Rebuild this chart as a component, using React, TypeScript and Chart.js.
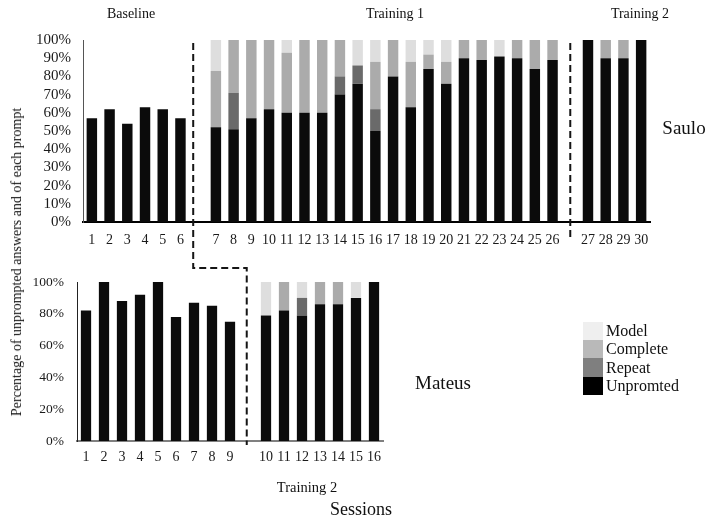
import React, { useEffect, useRef } from 'react';
import { Chart, registerables } from 'chart.js';
Chart.register(...registerables);

// ---------- Data ----------
const topSessions = ['1','2','3','4','5','6','','7','8','9','10','11','12','13','14','15','16','17','18','19','20','21','22','23','24','25','26','','27','28','29','30'];
const topUnprompted = [57,62,54,63,62,57,null,52,51,57,62,60,60,60,70,76,50,80,63,84,76,90,89,91,90,84,89,null,100,90,90,100];
const topRepeat =     [0,0,0,0,0,0,null,0,20,0,0,0,0,0,10,10,12,0,0,0,0,0,0,0,0,0,0,null,0,0,0,0];
const topComplete =   [0,0,0,0,0,0,null,31,29,43,38,33,40,40,20,0,26,20,25,8,12,10,11,0,10,16,11,null,0,10,10,0];
const topModel =      [0,0,0,0,0,0,null,17,0,0,0,7,0,0,0,14,12,0,12,8,12,0,0,9,0,0,0,null,0,0,0,0];

const bottomSessions = ['1','2','3','4','5','6','7','8','9','','10','11','12','13','14','15','16'];
const bottomUnprompted = [82,100,88,92,100,78,87,85,75,null,79,82,79,86,86,90,100];
const bottomRepeat =     [0,0,0,0,0,0,0,0,0,null,0,0,11,0,0,0,0];
const bottomComplete =   [0,0,0,0,0,0,0,0,0,null,0,18,0,14,14,0,0];
const bottomModel =      [0,0,0,0,0,0,0,0,0,null,21,0,10,0,0,10,0];

const legendItems = ['Model', 'Complete', 'Repeat', 'Unpromted'];

// ---------- Styles ----------
const FONT = '"Liberation Serif", "Times New Roman", Times, serif';
const C_UNPROMPTED = '#0b0b0b';
const C_REPEAT = '#6a6a6a';
const C_COMPLETE = '#ababab';
const C_MODEL = '#dedede';
const legendColors = ['#efefef', '#b9b9b9', '#7f7f7f', '#000000'];

function datasets(u: any[], r: any[], c: any[], m: any[], pct: number) {
  const base = { barPercentage: pct, categoryPercentage: 1, borderWidth: 0 };
  return [
    { label: 'Unpromted', data: u, backgroundColor: C_UNPROMPTED, ...base },
    { label: 'Repeat', data: r, backgroundColor: C_REPEAT, ...base },
    { label: 'Complete', data: c, backgroundColor: C_COMPLETE, ...base },
    { label: 'Model', data: m, backgroundColor: C_MODEL, ...base },
  ];
}

export default function App() {
  const topRef = useRef<HTMLCanvasElement>(null);
  const botRef = useRef<HTMLCanvasElement>(null);

  useEffect(() => {
    const topDivider = {
      id: 'topDivider',
      afterDraw(chart: any) {
        const ctx = chart.ctx;
        const x = chart.scales.x.getPixelForValue(27);
        ctx.save();
        ctx.setLineDash([7, 4]);
        ctx.lineWidth = 2;
        ctx.strokeStyle = '#151515';
        ctx.beginPath();
        ctx.moveTo(x, chart.chartArea.top + 3);
        ctx.lineTo(x, chart.chartArea.bottom + 15);
        ctx.stroke();
        ctx.restore();
      },
    };

    const topChart = new Chart(topRef.current as HTMLCanvasElement, {
      type: 'bar',
      data: { labels: topSessions, datasets: datasets(topUnprompted, topRepeat, topComplete, topModel, 0.59) as any },
      options: {
        responsive: false,
        animation: false,
        layout: { padding: { left: 0, top: 40, right: 61, bottom: 269 } },
        plugins: { legend: { display: false }, tooltip: { enabled: false } },
        scales: {
          x: {
            stacked: true,
            grid: { display: false, drawTicks: false },
            border: { display: true, color: '#000', width: 2 },
            ticks: { autoSkip: false, maxRotation: 0, minRotation: 0, padding: 10, color: '#1a1a1a', font: { family: FONT, size: 14 } },
            afterFit: (s: any) => { s.width = s.width; s.height = 30; },
          },
          y: {
            stacked: true,
            min: 0,
            max: 100,
            grid: { display: false, drawTicks: false },
            border: { display: true, color: '#555', width: 1 },
            ticks: { stepSize: 10, autoSkip: false, maxTicksLimit: 11, padding: 12, color: '#1a1a1a', font: { family: FONT, size: 15, lineHeight: 0.8 }, callback: (v: any) => v + '%' },
            afterFit: (s: any) => { s.width = 83; },
          },
        },
      },
      plugins: [topDivider],
    });

    const connector = {
      id: 'connector',
      afterDraw(chart: any) {
        const ctx = chart.ctx;
        const x1 = topChart.scales.x.getPixelForValue(5.72);
        const yTop = topChart.chartArea.top + 3;
        const yMid = 268;
        const x2 = chart.scales.x.getPixelForValue(8.93);
        const yEnd = chart.chartArea.bottom + 4;
        ctx.save();
        ctx.setLineDash([7, 4]);
        ctx.lineWidth = 2;
        ctx.strokeStyle = '#151515';
        ctx.beginPath();
        ctx.moveTo(x1, yTop);
        ctx.lineTo(x1, yMid);
        ctx.lineTo(x2, yMid);
        ctx.lineTo(x2, yEnd);
        ctx.stroke();
        ctx.restore();
      },
    };

    const botChart = new Chart(botRef.current as HTMLCanvasElement, {
      type: 'bar',
      data: { labels: bottomSessions, datasets: datasets(bottomUnprompted, bottomRepeat, bottomComplete, bottomModel, 0.57) as any },
      options: {
        responsive: false,
        animation: false,
        layout: { padding: { left: 0, top: 282, right: 328, bottom: 50 } },
        plugins: { legend: { display: false }, tooltip: { enabled: false } },
        scales: {
          x: {
            stacked: true,
            grid: { display: false, drawTicks: false },
            border: { display: true, color: '#808080', width: 2 },
            ticks: { autoSkip: false, maxRotation: 0, minRotation: 0, padding: 8, color: '#1a1a1a', font: { family: FONT, size: 14 } },
            afterFit: (s: any) => { s.height = 30; },
          },
          y: {
            stacked: true,
            min: 0,
            max: 100,
            grid: { display: false, drawTicks: false },
            border: { display: true, color: '#222', width: 1 },
            ticks: { stepSize: 20, autoSkip: false, padding: 13, color: '#1a1a1a', font: { family: FONT, size: 13.5 }, callback: (v: any) => v + '%' },
            afterFit: (s: any) => { s.width = 77; },
          },
        },
      },
      plugins: [connector],
    });

    return () => {
      botChart.destroy();
      topChart.destroy();
    };
  }, []);

  const txt = (s: string, cx: number, cy: number, size: number, extra: any = {}) => (
    <div
      style={{
        position: 'absolute', left: cx, top: cy, transform: 'translate(-50%, -50%)',
        fontFamily: FONT, fontSize: size, lineHeight: 1, whiteSpace: 'nowrap', color: '#111', ...extra,
      }}
    >
      {s}
    </div>
  );

  return (
    <div style={{ position: 'fixed', left: 0, top: 0, width: 711, height: 521, background: '#fff', overflow: 'hidden' }}>
      <canvas ref={topRef} width={711} height={521} style={{ position: 'absolute', left: 0, top: 0, width: 711, height: 521 }} />
      <canvas ref={botRef} width={711} height={521} style={{ position: 'absolute', left: 0, top: 0, width: 711, height: 521 }} />
      {txt('Baseline', 131, 14, 14)}
      {txt('Training 1', 395, 14, 14)}
      {txt('Training 2', 640, 14, 14)}
      {txt('Saulo', 684, 127, 19)}
      {txt('Mateus', 443, 382, 19)}
      {txt('Training 2', 307, 487, 14.5)}
      {txt('Sessions', 361, 509, 18)}
      {txt('Percentage of unprompted answers and of each prompt', 17, 262, 14, { transform: 'translate(-50%, -50%) rotate(-90deg)' })}
      {legendItems.map((name, i) => (
        <React.Fragment key={name}>
          <div style={{ position: 'absolute', left: 583, top: 322 + i * 18.2, width: 20, height: 18.2, background: legendColors[i] }} />
          <div style={{ position: 'absolute', left: 606, top: 322 + i * 18.2 + 9.1, transform: 'translateY(-50%)', fontFamily: FONT, fontSize: 16, lineHeight: 1, whiteSpace: 'nowrap', color: '#111' }}>
            {name}
          </div>
        </React.Fragment>
      ))}
    </div>
  );
}
